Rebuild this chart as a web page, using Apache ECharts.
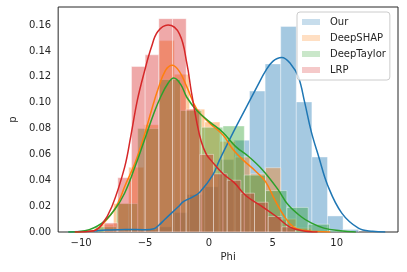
<!DOCTYPE html>
<html>
<head>
<meta charset="utf-8">
<script src="https://cdn.jsdelivr.net/npm/echarts@6/dist/echarts.min.js"></script>
<style>html,body{margin:0;padding:0;background:#fff}#c{width:407px;height:272px}</style>
</head>
<body>
<div id="c"></div>
<script>
const categories = ['Our', 'DeepSHAP', 'DeepTaylor', 'LRP'];
const colors = ['#1f77b4', '#ff7f0e', '#2ca02c', '#d62728'];
const legendColors = ['rgba(31,119,180,0.25)', 'rgba(255,127,14,0.25)', 'rgba(44,160,44,0.25)', 'rgba(214,39,40,0.25)'];
const xTicks = [-10, -5, 0, 5, 10];
const yTicks = [0, 0.02, 0.04, 0.06, 0.08, 0.10, 0.12, 0.14, 0.16];

// histogram bin edges and densities
const ourEdges = [-7.8, -6.58, -5.36, -4.14, -2.92, -1.7, -0.48, 0.74, 1.96, 3.18, 4.40, 5.62, 6.84, 8.06, 9.28, 10.50, 11.72];
const ourHist = [0.001, 0.002, 0.002, 0.004, 0.015, 0.029, 0.035, 0.056, 0.071, 0.109, 0.130, 0.159, 0.1006, 0.058, 0.0124, 0.002];
const shapEdges = [-8.66, -7.47, -6.28, -5.09, -3.90, -2.71, -1.52, -0.33, 0.86, 2.05, 3.24, 4.43, 5.62, 6.81, 8.00];
const shapHist = [0.006, 0.022, 0.050, 0.083, 0.148, 0.122, 0.095, 0.085, 0.070, 0.058, 0.045, 0.0497, 0.010, 0.003];
const taylorEdges = [-8.90, -7.23, -5.57, -3.90, -2.23, -0.57, 1.10, 2.77, 4.43, 6.10, 7.77, 9.43, 11.10];
const taylorHist = [0.004, 0.022, 0.080, 0.118, 0.094, 0.081, 0.082, 0.044, 0.032, 0.019, 0.006, 0.001];
const lrpEdges = [-8.20, -7.13, -6.06, -4.99, -3.92, -2.85, -1.78, -0.71, 0.36, 1.43, 2.50, 3.57, 4.64, 5.71, 6.78];
const lrpHist = [0.007, 0.042, 0.128, 0.137, 0.165, 0.165, 0.095, 0.060, 0.045, 0.040, 0.030, 0.023, 0.012, 0.004];

// kernel density curves [phi, p]
const ourKde = [[-11.0,0],[-9.5,0.0005],[-8.0,0.0015],[-6.5,0.002],[-5.0,0.0018],[-4.3,0.0025],[-3.9,0.0054],[-3.5,0.0093],[-2.4,0.0195],[-2.0,0.0234],[-1.3,0.027],[-0.7,0.031],[0.3,0.044],[0.8,0.055],[1.9,0.077],[2.9,0.096],[3.8,0.113],[4.4,0.124],[5.0,0.132],[5.7,0.135],[6.4,0.130],[7.0,0.120],[7.5,0.100],[8.0,0.078],[8.6,0.058],[9.3,0.036],[10.4,0.0146],[11.7,0.003],[12.8,0.0005],[13.8,0]];
const shapKde = [[-10.5,0],[-9.5,0.0005],[-8.9,0.0015],[-7.6,0.0144],[-7.0,0.025],[-6.6,0.035],[-5.8,0.053],[-5.05,0.075],[-4.5,0.094],[-4.0,0.110],[-3.4,0.125],[-2.86,0.129],[-2.3,0.124],[-1.72,0.112],[-0.95,0.095],[0.08,0.084],[1.1,0.075],[1.87,0.064],[2.64,0.056],[3.66,0.047],[4.43,0.039],[5.2,0.024],[5.97,0.011],[6.6,0.004],[7.25,0.0015],[8.4,0.0003],[9.5,0]];
const taylorKde = [[-11.0,0],[-9.7,0.001],[-8.4,0.0067],[-7.4,0.017],[-6.6,0.030],[-5.8,0.050],[-5.05,0.071],[-4.3,0.092],[-3.8,0.104],[-3.2,0.115],[-2.75,0.119],[-2.2,0.114],[-1.72,0.104],[-0.95,0.094],[0.08,0.085],[1.1,0.077],[2.1,0.066],[3.15,0.058],[4.2,0.048],[5.4,0.033],[6.2,0.021],[7.2,0.012],[8.0,0.007],[9.0,0.003],[10.3,0.001],[11.5,0]];
const lrpKde = [[-10.5,0],[-9.0,0.001],[-8.4,0.0054],[-7.6,0.0195],[-6.6,0.050],[-6.1,0.075],[-5.6,0.102],[-5.05,0.124],[-4.5,0.143],[-4.0,0.155],[-3.2,0.160],[-2.3,0.153],[-1.72,0.130],[-1.4,0.110],[-0.95,0.085],[-0.6,0.070],[-0.2,0.060],[0.2,0.055],[1.1,0.045],[2.0,0.038],[2.9,0.028],[4.2,0.0195],[5.3,0.0118],[6.3,0.004],[7.3,0.001],[8.5,0]];

const histEdges = [ourEdges, shapEdges, taylorEdges, lrpEdges];
const histVals = [ourHist, shapHist, taylorHist, lrpHist];
const kdes = [ourKde, shapKde, taylorKde, lrpKde];

const FONT = 'DejaVu Sans';
const TXT = '#262626';

function binsOf(edges, vals) {
  return vals.map((v, i) => [edges[i], edges[i + 1], v]);
}
function makeRender(color) {
  return function (params, api) {
    const p0 = api.coord([api.value(0), api.value(2)]);
    const p1 = api.coord([api.value(1), 0]);
    return {
      type: 'rect',
      shape: { x: p0[0], y: p0[1], width: p1[0] - p0[0], height: p1[1] - p0[1] },
      style: { fill: color, stroke: '#ffffff', lineWidth: 1, opacity: 0.4 }
    };
  };
}

const series = [];
categories.forEach((name, i) => {
  series.push({
    name: name, type: 'custom', renderItem: makeRender(colors[i]),
    data: binsOf(histEdges[i], histVals[i]),
    encode: { x: [0, 1], y: 2 }, clip: true, z: 1 + i * 0.01,
    itemStyle: { color: legendColors[i] }, silent: true
  });
});
categories.forEach((name, i) => {
  series.push({
    name: name + ' kde', type: 'line', data: kdes[i], smooth: 0.4,
    showSymbol: false, symbol: 'none', clip: true, z: 3 + i * 0.01,
    lineStyle: { color: colors[i], width: 1.5 }, itemStyle: { color: colors[i] },
    silent: true, animation: false
  });
});

const chart = echarts.init(document.getElementById('c'), null, { renderer: 'canvas' });
chart.setOption({
  backgroundColor: '#ffffff',
  animation: false,
  grid: { left: 52, right: 9, top: 7, bottom: 40, show: true, borderColor: '#262626', borderWidth: 1, backgroundColor: 'transparent' },
  xAxis: {
    type: 'value', min: -11.8, max: 14.8,
    name: 'Phi', nameLocation: 'middle', nameGap: 19,
    nameTextStyle: { fontFamily: FONT, fontSize: 10, color: TXT },
    axisLine: { show: false }, axisTick: { show: false }, splitLine: { show: false },
    axisLabel: {
      customValues: xTicks, margin: 6, fontFamily: FONT, fontSize: 10, color: TXT,
      formatter: v => (v < 0 ? '\u2212' + Math.abs(v) : String(v))
    }
  },
  yAxis: {
    type: 'value', min: 0, max: 0.174,
    name: 'p', nameLocation: 'middle', nameGap: 33,
    nameTextStyle: { fontFamily: FONT, fontSize: 10, color: TXT },
    axisLine: { show: false }, axisTick: { show: false }, splitLine: { show: false },
    axisLabel: {
      customValues: yTicks, margin: 7, fontFamily: FONT, fontSize: 10, color: TXT,
      formatter: v => v.toFixed(2)
    }
  },
  legend: {
    orient: 'vertical', left: 297, top: 12,
    padding: [5, 4, 5, 5], itemWidth: 18, itemHeight: 6, itemGap: 6,
    backgroundColor: 'rgba(255,255,255,0.8)', borderColor: '#cccccc', borderWidth: 1, borderRadius: 3,
    textStyle: { fontFamily: FONT, fontSize: 10, color: TXT, padding: [0, 0, 0, 5], lineHeight: 10 },
    selectedMode: false,
    data: categories.map((n, i) => ({ name: n, icon: 'rect', itemStyle: { color: legendColors[i], opacity: 1, borderWidth: 0 } }))
  },
  series: series
});
</script>
</body>
</html>
